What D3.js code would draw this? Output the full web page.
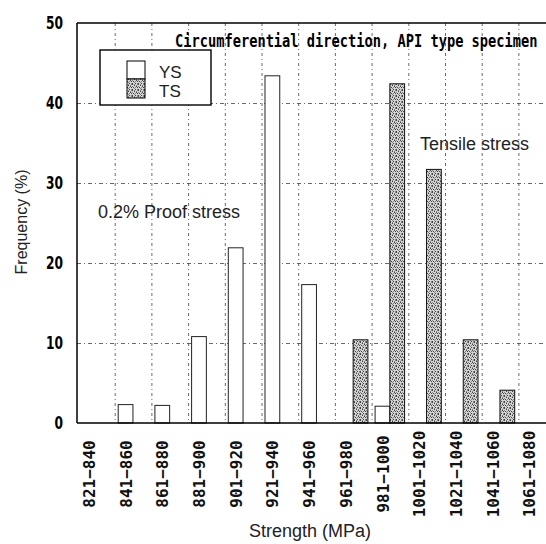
<!DOCTYPE html>
<html>
<head>
<meta charset="utf-8">
<script src="https://cdn.jsdelivr.net/npm/d3@7"></script>
<style>
  html, body { margin: 0; padding: 0; background: #fff; }
  svg { display: block; }
</style>
</head>
<body>
<svg id="chart" width="546" height="544"></svg>
<script>
// Strength classes (MPa)
const categories = ["821−840", "841−860", "861−880", "881−900", "901−920", "921−940",
  "941−960", "961−980", "981−1000", "1001−1020", "1021−1040", "1041−1060", "1061−1080"];
// Frequency (%) of 0.2% proof stress (YS) and tensile stress (TS)
const ysValues = [0, 2.3, 2.2, 10.8, 21.9, 43.4, 17.3, 0, 2.1, 0, 0, 0, 0];
const tsValues = [0, 0, 0, 0, 0, 0, 0, 10.4, 42.4, 31.7, 10.4, 4.1, 0];
const series = ["YS", "TS"];
const yTicks = [0, 10, 20, 30, 40, 50];

const svg = d3.select("#chart");
const plotLeft = 77, plotTop = 23, plotBottom = 423, plotRight = 546;

const x = d3.scaleBand().domain(categories).range([78, 78 + 13 * 36.7]).paddingInner(0).paddingOuter(0);
const sub = d3.scaleBand().domain(series).range([3.5, 33]);
const y = d3.scaleLinear().domain([0, 50]).range([plotBottom, plotTop]);

// stippled fill for the tensile-stress bars
const defs = svg.append("defs");
const pat = defs.append("pattern").attr("id", "stipple")
  .attr("patternUnits", "userSpaceOnUse").attr("width", 6).attr("height", 6);
pat.append("rect").attr("width", 6).attr("height", 6).attr("fill", "#d4d4d4");
const dots = [
  "DLMLLM",
  "LLDLML",
  "MLLLDL",
  "LDLMLD",
  "LLMLLL",
  "DLLDLM"
];
const shade = { D: "#444", M: "#858585" };
dots.forEach((row, py) => row.split("").forEach((ch, px) => {
  if (shade[ch]) pat.append("rect").attr("x", px).attr("y", py).attr("width", 1).attr("height", 1).attr("fill", shade[ch]);
}));

// grid
const grid = svg.append("g").attr("stroke", "#444").attr("stroke-width", 0.8).attr("fill", "none");
grid.selectAll("line.v").data(categories.slice(1)).join("line").attr("class", "v")
  .attr("x1", d => x(d) + 0.5).attr("x2", d => x(d) + 0.5)
  .attr("y1", plotTop).attr("y2", plotBottom)
  .attr("stroke-dasharray", "3,3,1,3");
grid.selectAll("line.h").data(yTicks.slice(1, -1)).join("line").attr("class", "h")
  .attr("x1", plotLeft).attr("x2", plotRight)
  .attr("y1", d => y(d) + 0.5).attr("y2", d => y(d) + 0.5)
  .attr("stroke-dasharray", "4,3,1,3");

// bars
const bars = svg.append("g");
bars.selectAll("rect.ys").data(categories.map((c, i) => ({ c, v: ysValues[i] })).filter(d => d.v > 0))
  .join("rect").attr("class", "ys")
  .attr("x", d => x(d.c) + sub("YS")).attr("width", sub.bandwidth())
  .attr("y", d => y(d.v)).attr("height", d => y(0) - y(d.v))
  .attr("fill", "#fff").attr("stroke", "#222").attr("stroke-width", 1);
bars.selectAll("rect.ts").data(categories.map((c, i) => ({ c, v: tsValues[i] })).filter(d => d.v > 0))
  .join("rect").attr("class", "ts")
  .attr("x", d => x(d.c) + sub("TS")).attr("width", sub.bandwidth())
  .attr("y", d => y(d.v)).attr("height", d => y(0) - y(d.v))
  .attr("fill", "url(#stipple)").attr("stroke", "#111").attr("stroke-width", 1);

// frame
const frame = svg.append("g").attr("stroke", "#000").attr("fill", "none");
frame.append("line").attr("x1", plotLeft).attr("x2", plotLeft).attr("y1", plotTop).attr("y2", plotBottom).attr("stroke-width", 1.5);
frame.append("line").attr("x1", plotLeft).attr("x2", plotRight).attr("y1", plotTop).attr("y2", plotTop).attr("stroke-width", 1.5);
frame.append("line").attr("x1", plotLeft).attr("x2", plotRight).attr("y1", plotBottom).attr("y2", plotBottom).attr("stroke-width", 1.5);

// y axis
const yAxis = svg.append("g").attr("transform", `translate(${plotLeft},0)`)
  .call(d3.axisLeft(y).tickValues(yTicks).tickSize(0).tickPadding(14));
yAxis.select(".domain").remove();
yAxis.selectAll("text")
  .attr("font-family", "'Liberation Sans Narrow', 'DejaVu Sans Condensed', sans-serif")
  .attr("font-weight", "bold").attr("font-size", 18).attr("fill", "#000").attr("dy", "0.32em")
  .attr("textLength", d => String(d).length * 8.5).attr("lengthAdjust", "spacingAndGlyphs");

// x axis with rotated class labels
const xAxis = svg.append("g").attr("transform", `translate(0,${plotBottom})`)
  .call(d3.axisBottom(x).tickSize(0));
xAxis.select(".domain").remove();
xAxis.selectAll("text")
  .attr("font-family", "'DejaVu Sans Mono', monospace")
  .attr("font-weight", "bold").attr("font-size", 16).attr("fill", "#111")
  .attr("text-anchor", "middle").attr("y", 0).attr("dy", "0.35em")
  .attr("transform", `translate(${sub("YS") + sub.bandwidth() / 2 - x.bandwidth() / 2 + 0.5},51) rotate(-90)`);

// titles
svg.append("text").attr("x", 310).attr("y", 537).attr("text-anchor", "middle")
  .attr("font-family", "'Liberation Sans', Arial, sans-serif").attr("font-size", 18).attr("fill", "#222")
  .text("Strength (MPa)");
svg.append("text").attr("transform", "translate(21,222) rotate(-90)").attr("text-anchor", "middle")
  .attr("dy", "0.35em")
  .attr("font-family", "'Liberation Sans', Arial, sans-serif").attr("font-size", 16).attr("fill", "#222")
  .text("Frequency (%)");
// condensed, tall monospace caption
svg.append("text").attr("transform", "translate(175,47) scale(1,1.28)")
  .attr("font-family", "'DejaVu Sans Mono', monospace").attr("font-weight", "bold").attr("font-size", 13.7)
  .attr("fill", "#000")
  .text("Circumferential direction, API type specimen");

// annotations
svg.append("text").attr("x", 98).attr("y", 218)
  .attr("font-family", "'Liberation Sans', Arial, sans-serif").attr("font-size", 18).attr("fill", "#222")
  .text("0.2% Proof stress");
svg.append("text").attr("x", 420).attr("y", 150)
  .attr("font-family", "'Liberation Sans', Arial, sans-serif").attr("font-size", 18).attr("fill", "#222")
  .text("Tensile stress");

// legend
const lg = svg.append("g");
lg.append("rect").attr("x", 100).attr("y", 50).attr("width", 111).attr("height", 55)
  .attr("fill", "#fff").attr("stroke", "#000").attr("stroke-width", 1.4);
lg.append("rect").attr("x", 127).attr("y", 61).attr("width", 18).attr("height", 18)
  .attr("fill", "#fff").attr("stroke", "#000").attr("stroke-width", 1);
lg.append("rect").attr("x", 127).attr("y", 79).attr("width", 18).attr("height", 19)
  .attr("fill", "url(#stipple)").attr("stroke", "#000").attr("stroke-width", 1);
lg.selectAll("text.lab").data(series).join("text").attr("class", "lab")
  .attr("x", 159).attr("y", (d, i) => 78 + i * 19)
  .attr("font-family", "'Liberation Sans', Arial, sans-serif").attr("font-size", 17).attr("fill", "#222")
  .text(d => d);
</script>
</body>
</html>
